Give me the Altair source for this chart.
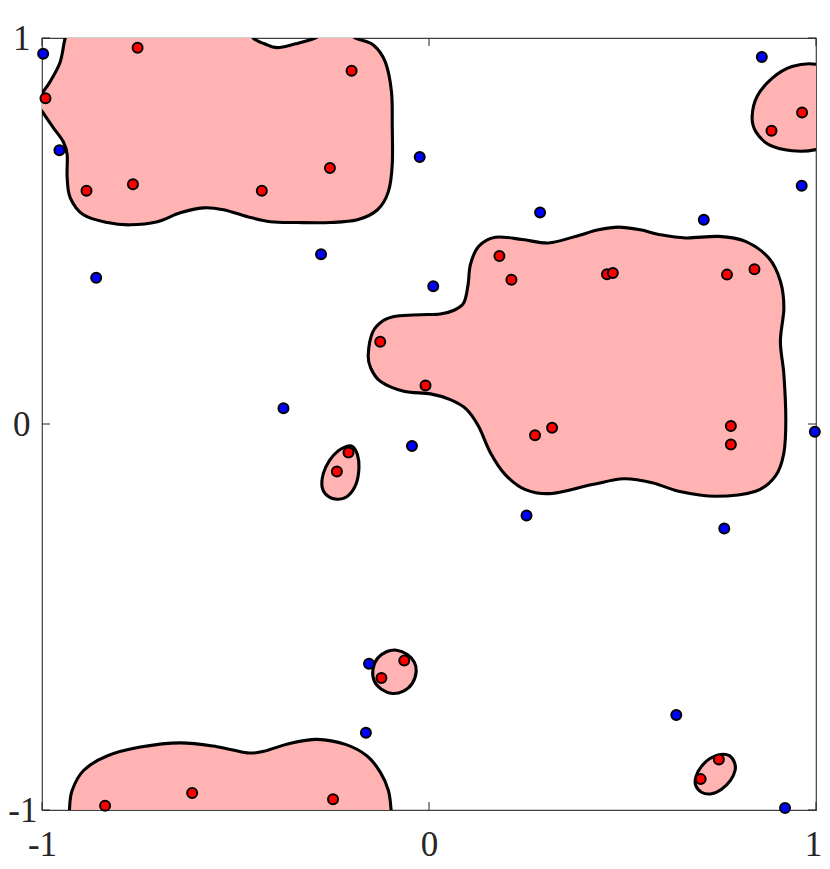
import altair as alt
import pandas as pd

# ---- scattered samples (data units) ----
red_x = [-0.753, -0.991, -0.200, -0.256, -0.885, -0.765, -0.432, 0.964, 0.885, 0.182,
         0.213, 0.460, 0.475, 0.770, 0.841, -0.126, -0.009, 0.274, 0.318, 0.780,
         0.780, -0.208, -0.238, -0.064, -0.123, -0.837, -0.612, -0.248, 0.749, 0.702]
red_y = [0.975, 0.844, 0.915, 0.663, 0.604, 0.621, 0.604, 0.807, 0.760, 0.435,
         0.374, 0.388, 0.391, 0.387, 0.401, 0.213, 0.100, -0.029, -0.010, -0.005,
         -0.053, -0.074, -0.123, -0.613, -0.658, -0.989, -0.956, -0.972, -0.869, -0.920]

blue_x = [-0.997, -0.955, -0.024, -0.279, -0.860, -0.376, 0.860, 0.963, 0.287, 0.710,
          0.011, 0.997, -0.044, 0.252, 0.763, -0.155, -0.163, 0.639, 0.920]
blue_y = [0.959, 0.709, 0.692, 0.440, 0.379, 0.041, 0.951, 0.617, 0.548, 0.529,
          0.357, -0.020, -0.057, -0.237, -0.271, -0.621, -0.800, -0.754, -0.995]

# ---- decision-region outlines (data units) ----
blob_a_x = [-0.940, -0.922, -0.694, -0.487, -0.454, -0.425, -0.392, -0.345, -0.294, -0.242,
            -0.190, -0.144, -0.113, -0.097, -0.095, -0.095, -0.105, -0.133, -0.185, -0.255,
            -0.340, -0.410, -0.469, -0.531, -0.583, -0.643, -0.702, -0.772, -0.831, -0.893,
            -0.927, -0.935, -0.935, -0.945, -0.971, -0.997, -1.015, -0.997, -0.979, -0.953]
blob_a_y = [1.000, 1.047, 1.052, 1.042, 1.000, 0.985, 0.975, 0.985, 1.000, 1.026,
            1.000, 0.982, 0.938, 0.861, 0.775, 0.672, 0.602, 0.555, 0.529, 0.522,
            0.522, 0.524, 0.537, 0.555, 0.560, 0.547, 0.524, 0.516, 0.522, 0.542,
            0.586, 0.638, 0.698, 0.731, 0.768, 0.806, 0.835, 0.861, 0.887, 0.938]

blob_b_x = [1.000, 0.938, 0.887, 0.848, 0.835, 0.844, 0.878, 0.938, 1.000, 1.063, 1.063]
blob_b_y = [0.932, 0.926, 0.896, 0.849, 0.797, 0.758, 0.724, 0.708, 0.711, 0.736, 0.905]

blob_c_x = [-0.157, -0.146, -0.118, -0.082, -0.022, 0.029, 0.063, 0.090, 0.101, 0.107,
            0.128, 0.172, 0.241, 0.309, 0.378, 0.438, 0.490, 0.546, 0.594, 0.663,
            0.749, 0.818, 0.878, 0.908, 0.917, 0.908, 0.917, 0.922, 0.917, 0.895,
            0.844, 0.740, 0.645, 0.577, 0.503, 0.422, 0.318, 0.249, 0.197, 0.159,
            0.128, 0.097, 0.055, 0.004, -0.065, -0.126, -0.151]
blob_c_y = [0.180, 0.237, 0.268, 0.280, 0.283, 0.285, 0.294, 0.314, 0.361, 0.413,
            0.460, 0.484, 0.478, 0.469, 0.486, 0.503, 0.510, 0.503, 0.491, 0.482,
            0.486, 0.473, 0.430, 0.370, 0.301, 0.214, 0.128, 0.012, -0.075, -0.135,
            -0.174, -0.187, -0.174, -0.152, -0.142, -0.157, -0.180, -0.170, -0.131, -0.075,
            -0.006, 0.038, 0.063, 0.078, 0.085, 0.111, 0.146]

blob_d_x = [-0.198, -0.185, -0.181, -0.188, -0.208, -0.234, -0.260, -0.276, -0.273, -0.257, -0.234, -0.213]
blob_d_y = [-0.058, -0.079, -0.113, -0.154, -0.185, -0.195, -0.188, -0.164, -0.128, -0.094, -0.069, -0.058]

blob_e_x = [-0.145, -0.133, -0.110, -0.084, -0.056, -0.038, -0.033, -0.043, -0.066, -0.095, -0.123, -0.141]
blob_e_y = [-0.636, -0.607, -0.590, -0.586, -0.597, -0.617, -0.641, -0.672, -0.692, -0.698, -0.687, -0.667]

blob_f_x = [0.753, 0.776, 0.789, 0.791, 0.779, 0.756, 0.730, 0.704, 0.689, 0.690, 0.704, 0.727]
blob_f_y = [-0.856, -0.859, -0.876, -0.897, -0.923, -0.946, -0.958, -0.954, -0.936, -0.913, -0.887, -0.866]

blob_g_x = [-0.929, -0.922, -0.892, -0.832, -0.746, -0.643, -0.548, -0.470, -0.427, -0.358,
            -0.289, -0.216, -0.160, -0.126, -0.105, -0.098, -0.097, -0.513, -0.929]
blob_g_y = [-1.000, -0.949, -0.897, -0.860, -0.837, -0.826, -0.836, -0.852, -0.848, -0.827,
            -0.817, -0.830, -0.860, -0.902, -0.949, -1.000, -1.063, -1.089, -1.063]

tick_values = [-1, 0, 1]

W, H = 774, 772
TICK = 8
AXIS_COLOR = "#262626"

rows = []
for name, bx, by in [("A", blob_a_x, blob_a_y), ("B", blob_b_x, blob_b_y),
                     ("C", blob_c_x, blob_c_y), ("D", blob_d_x, blob_d_y),
                     ("E", blob_e_x, blob_e_y), ("F", blob_f_x, blob_f_y),
                     ("G", blob_g_x, blob_g_y)]:
    for i, (x, y) in enumerate(zip(bx, by)):
        rows.append({"blob": name, "i": i, "x": x, "y": y})
blobs = pd.DataFrame(rows)

pts = pd.DataFrame({
    "x": red_x + blue_x,
    "y": red_y + blue_y,
    "cls": ["red"] * len(red_x) + ["blue"] * len(blue_x),
})
ticks_df = pd.DataFrame({"v": tick_values})

xs = alt.Scale(domain=[-1, 1], nice=False, zero=False)
ys = alt.Scale(domain=[-1, 1], nice=False, zero=False)

axis_common = dict(values=tick_values, domain=False, ticks=False, grid=False,
                   labelFont="Liberation Serif", labelFontSize=35, labelColor=AXIS_COLOR,
                   labelExpr="'' + datum.value", labelFlush=False, labelOverlap=False,
                   labelBound=False, title=None)
X_AXIS = alt.Axis(labelPadding=17,
                  labelOffset={"condition": {"test": "datum.value == 1", "value": -3}, "value": 0},
                  **axis_common)
Y_AXIS = alt.Axis(labelPadding={"condition": {"test": "datum.value == -1", "value": 5}, "value": 12},
                  **axis_common)

blob_layer = alt.Chart(blobs).mark_line(
    interpolate="cardinal-closed", fill="#ffb3b3", stroke="black",
    strokeWidth=3.1, clip=True
).encode(
    x=alt.X("x:Q", scale=xs, axis=X_AXIS),
    y=alt.Y("y:Q", scale=ys, axis=Y_AXIS),
    detail="blob:N",
    order="i:Q",
)

rule = dict(color=AXIS_COLOR, strokeWidth=1)
tick_bottom = alt.Chart(ticks_df).mark_rule(**rule).encode(
    x=alt.X("v:Q", scale=xs, axis=X_AXIS), y=alt.value(H), y2=alt.value(H - TICK))
tick_top = alt.Chart(ticks_df).mark_rule(**rule).encode(
    x=alt.X("v:Q", scale=xs, axis=X_AXIS), y=alt.value(0), y2=alt.value(TICK))
tick_left = alt.Chart(ticks_df).mark_rule(**rule).encode(
    y=alt.Y("v:Q", scale=ys, axis=Y_AXIS), x=alt.value(0), x2=alt.value(TICK))
tick_right = alt.Chart(ticks_df).mark_rule(**rule).encode(
    y=alt.Y("v:Q", scale=ys, axis=Y_AXIS), x=alt.value(W), x2=alt.value(W - TICK))

pts_layer = alt.Chart(pts).mark_circle(
    size=100, stroke="black", strokeWidth=2, opacity=1
).encode(
    x=alt.X("x:Q", scale=xs, axis=X_AXIS),
    y=alt.Y("y:Q", scale=ys, axis=Y_AXIS),
    fill=alt.Fill("cls:N", scale=alt.Scale(domain=["red", "blue"], range=["#ff0000", "#0000ff"]),
                  legend=None),
)

chart = alt.layer(
    blob_layer, tick_bottom, tick_top, tick_left, tick_right, pts_layer
).properties(
    width=W, height=H,
    autosize=alt.AutoSizeParams(type="none"),
    padding={"left": 34, "top": 30, "right": 6, "bottom": 55},
).configure_view(stroke="#404040", strokeWidth=1.2)

chart.save("out.html", embed_options={"renderer": "svg", "actions": False})
